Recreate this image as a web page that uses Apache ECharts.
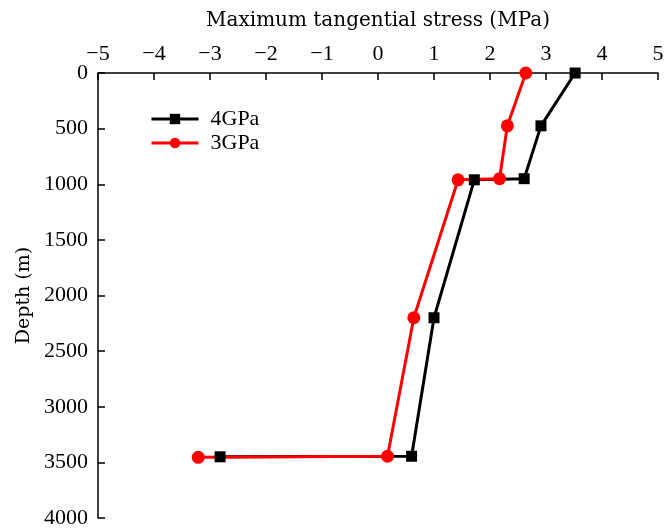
<!DOCTYPE html>
<html>
<head>
<meta charset="utf-8">
<script src="https://cdn.jsdelivr.net/npm/echarts@6/dist/echarts.min.js"></script>
<style>html,body{margin:0;padding:0;background:#fff;}#c{width:665px;height:532px;}</style>
</head>
<body>
<div id="c"></div>
<script>
// Data (stress in MPa, depth in m)
const seriesNames = ['4GPa', '3GPa'];
const stress4GPa = [3.52, 2.91, 2.61, 1.72, 1.00, 0.60, -2.82];
const depth4GPa  = [0, 475, 950, 960, 2200, 3445, 3450];
const stress3GPa = [2.64, 2.31, 2.17, 1.43, 0.64, 0.17, -3.21];
const depth3GPa  = [0, 475, 950, 960, 2200, 3445, 3455];
const xTicks = [-5, -4, -3, -2, -1, 0, 1, 2, 3, 4, 5];
const yTicks = [0, 500, 1000, 1500, 2000, 2500, 3000, 3500, 4000];

const pairs = (xs, ys) => xs.map((x, i) => [x, ys[i]]);
const txt = '#000';
const numFont = 'Liberation Serif';
const wordFont = 'DejaVu Serif';

const chart = echarts.init(document.getElementById('c'), null, {renderer: 'canvas'});
chart.setOption({
  animation: false,
  backgroundColor: '#fff',
  grid: {left: 98, right: 7, top: 73, bottom: 14, containLabel: false, outerBoundsMode: 'none'},
  legend: {
    orient: 'vertical', left: 150, top: 108, padding: 0,
    itemWidth: 47, itemHeight: 13, itemGap: 2,
    data: seriesNames,
    lineStyle: {width: 3},
    textStyle: {fontFamily: numFont, fontSize: 22, color: txt, padding: [0, 0, 0, 7]}
  },
  xAxis: {
    type: 'value', position: 'top',
    min: xTicks[0], max: xTicks[xTicks.length - 1], interval: 1,
    name: 'Maximum tangential stress (MPa)',
    nameLocation: 'middle', nameGap: 42,
    nameTextStyle: {fontFamily: wordFont, fontSize: 20, color: txt},
    axisLine: {show: true, onZero: false, lineStyle: {color: '#000', width: 1.5}},
    axisTick: {show: true, inside: true, length: 7, lineStyle: {color: '#000', width: 1.5}},
    axisLabel: {margin: 8, fontFamily: numFont, fontSize: 22, color: txt,
      formatter: v => String(v).replace('-', '\u2212')},
    splitLine: {show: false}
  },
  yAxis: {
    type: 'value', inverse: true,
    min: yTicks[0], max: yTicks[yTicks.length - 1], interval: 500,
    name: 'Depth (m)',
    nameLocation: 'middle', nameGap: 64,
    nameTextStyle: {fontFamily: wordFont, fontSize: 19, color: txt},
    axisLine: {show: true, onZero: false, lineStyle: {color: '#000', width: 1.5}},
    axisTick: {show: true, inside: true, length: 7, lineStyle: {color: '#000', width: 1.5}},
    axisLabel: {margin: 10, fontFamily: numFont, fontSize: 22, color: txt,
      formatter: v => String(v)},
    splitLine: {show: false}
  },
  series: [
    {
      name: seriesNames[0], type: 'line', data: pairs(stress4GPa, depth4GPa),
      symbol: 'rect', symbolSize: 11,
      lineStyle: {color: '#000', width: 3},
      itemStyle: {color: '#000'}
    },
    {
      name: seriesNames[1], type: 'line', data: pairs(stress3GPa, depth3GPa),
      symbol: 'circle', symbolSize: 13,
      lineStyle: {color: '#ff0000', width: 3},
      itemStyle: {color: '#ff0000'}
    }
  ]
});
</script>
</body>
</html>
